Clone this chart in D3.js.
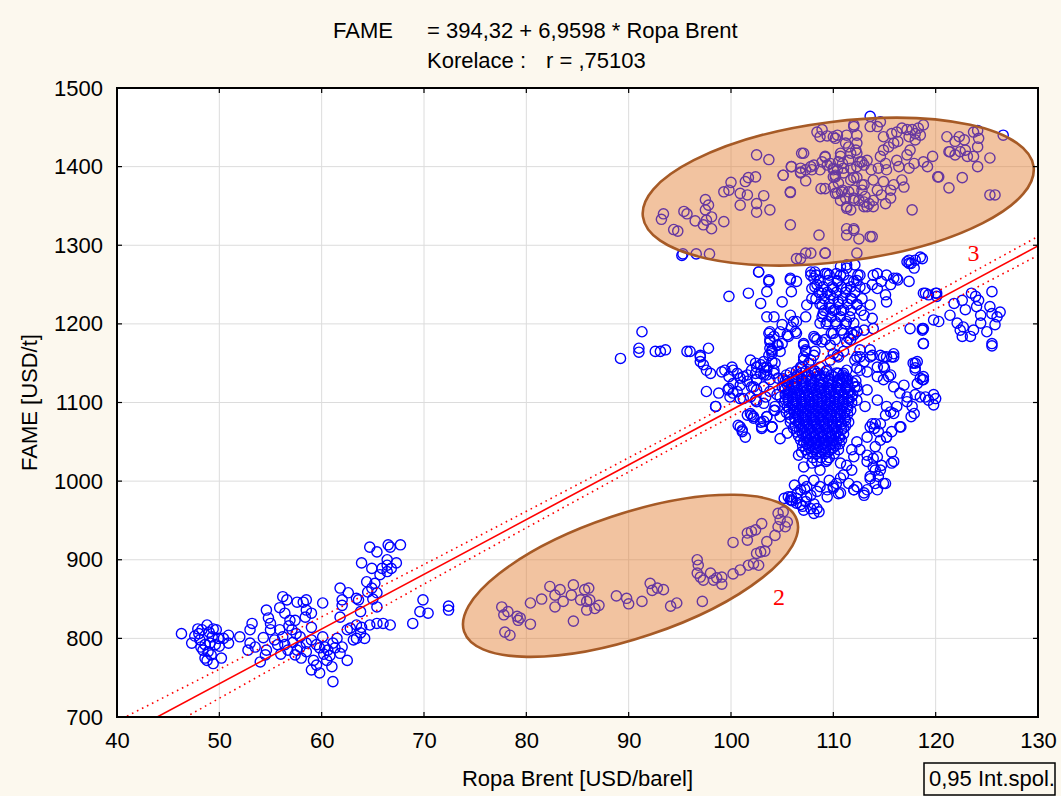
<!DOCTYPE html>
<html>
<head>
<meta charset="utf-8">
<script src="https://cdn.jsdelivr.net/npm/d3@7"></script>
<style>
  body { margin: 0; background: #fcf8ee; }
  svg text { font-family: Arial, "Liberation Sans", sans-serif; fill: #000; }
</style>
</head>
<body>
<svg id="chart" width="1061" height="796"></svg>
<script>
// ---- axis ticks ----
const xTicks = [40, 50, 60, 70, 80, 90, 100, 110, 120, 130];
const yTicks = [700, 800, 900, 1000, 1100, 1200, 1300, 1400, 1500];

// ---- regression: FAME = 394,32 + 6,9598 * Ropa Brent ----
const intercept = 394.32;
const slope = 6.9598;
// 0.95 confidence band half-width (USD/t) along Brent
const bandX = [40, 50, 60, 70, 80, 90, 100, 110, 120, 130];
const bandHalf = [22, 18.5, 15.5, 12.5, 10.5, 9, 8.5, 9, 10.5, 12];

// ---- observations [Brent USD/barel, FAME USD/t] ----
const obsLow = [
  [46.3,806],[47.3,794],[47.6,803],[48.3,811],[48.8,817],[49.4,812],[49.7,811],[50.9,804],[50.9,794],
  [48.1,798],[48.6,792],[49.1,794],[49.6,792],[48.4,785],[48.9,783],[48.6,775],[48.8,772],[49.4,768],
  [50.2,775],[49.3,802],[49.9,800],[48.0,806],[49.0,808],[50.0,790],[49.2,779],[48.2,789],[50.4,800],[47.9,812],
  [52.0,802],[53.0,811],[53.2,819],[53.0,794],[52.8,785],[53.5,789],[54.0,770],[54.3,801],[54.6,836],
  [54.8,826],[55.0,819],[55.4,798],[54.6,785],[54.5,779],[55.9,839],[56.2,853],[56.6,849],[56.4,832],
  [56.9,823],[57.4,823],[57.6,846],[58.2,846],[58.5,849],[58.5,836],[58.4,827],[59.0,832],[55.9,811],
  [56.2,802],[55.7,792],[56.4,792],[56.7,785],[57.2,795],[57.6,785],[57.9,789],[58.5,794],[59.0,798],
  [59.0,814],[57.4,779],[58.5,783],[55.0,811],[57.1,811],[57.9,802],[56.8,816],[57.5,806],[56.0,780],[58.0,775]
];
const obsMid = [
  [60.1,845],[59.5,792],[59.8,788],[60.1,802],[60.3,789],[60.6,785],[61.1,794],[61.5,800],[61.3,788],
  [59.2,772],[59.5,766],[59.0,760],[59.8,756],[60.5,772],[61.0,764],[61.1,745],[61.8,781],[62.5,772],
  [62.0,789],[62.0,849],[61.8,864],[62.0,842],[62.6,858],[63.4,851],[63.6,849],[61.8,827],[63.8,834],
  [62.5,811],[63.1,798],[60.8,778],[60.2,780],
  [62.8,813],[63.4,817],[63.8,807],[64.2,800],[63.4,800],[63.9,814],[64.7,817],[65.4,819],[66.0,819],
  [66.7,817],[64.4,872],[65.2,870],[64.5,859],[65.4,858],[65.4,840],[63.9,896],[64.7,916],[65.4,910],
  [64.9,889],[65.9,889],[66.4,893],[66.8,889],[66.7,916],[67.7,919],[66.5,919],[67.3,896],[66.4,900],
  [66.4,885],[65.7,881],[64.9,864],[65.0,850],
  [68.9,819],[69.6,834],[69.9,849],[70.4,832],[72.4,841],[72.4,836]
];
const obsGroup2 = [
  [77.6,840],[77.8,830],[78.2,834],[79.1,828],[79.2,823],[79.4,826],[80.4,818],[77.9,808],[78.4,804],
  [80.4,845],[81.5,850],[82.3,866],[82.8,855],[83.3,862],[82.8,840],[83.6,847],[84.6,868],[84.4,855],
  [84.6,822],[85.3,849],[85.7,862],[86.1,864],[85.9,847],[85.9,836],[86.2,849],[86.7,838],[87.1,842],
  [88.8,854],[89.8,851],[90.0,844],[91.3,847],[92.1,870],[92.3,861],[92.8,864],[93.4,862],[94.1,841],
  [94.7,845],[97.2,847],[96.7,900],[96.8,893],[96.7,883],[97.0,878],[97.3,874],[98.0,883],[98.3,874],
  [98.6,877],[99.1,878],[99.1,869],[100.2,882],[100.9,887],[100.2,922],[101.7,893],[102.2,895],[102.7,893],
  [102.5,908],[102.9,910],[103.3,911],[101.6,925],[101.6,934],[102.0,936],[102.4,938],[103.0,946],
  [103.5,923],[104.3,931],[104.6,942],[104.8,951],[105.1,961],[105.5,948],[104.6,959],[105.3,942]
];
const obsGroup3 = [
  [93.4,1340],[93.2,1333],[94.4,1320],[94.8,1318],[95.4,1343],[95.7,1340],[96.5,1331],[97.5,1358],
  [97.8,1351],[97.5,1345],[97.6,1332],[98.1,1336],[98.1,1321],[97.3,1326],[99.3,1330],[99.3,1368],
  [100.0,1380],[99.8,1370],[100.9,1366],[101.4,1381],[101.7,1386],[101.6,1364],[102.4,1387],[102.5,1415],
  [103.7,1409],[103.2,1363],[102.5,1353],[100.9,1351],[103.8,1345],[102.5,1342],[105.1,1389],[105.8,1367],
  [105.8,1326],[105.9,1400],[106.9,1417],[106.8,1392],[107.3,1382],[107.3,1396],[107.9,1396],[108.1,1402],
  [108.7,1396],[109.2,1412],[109.2,1372],[108.6,1313],[107.8,1290],[106.8,1283],[109.2,1290],[109.4,1402],
  [110.0,1398],[108.4,1444],[108.7,1438],[109.4,1439],[110.0,1438],[108.9,1447],[110.2,1387],[110.2,1366],
  [96.6,1289],[95.3,1289],[97.9,1289],
  [110.4,1440],[112.0,1451],[113.6,1464],[114.6,1457],[113.6,1451],[114.3,1451],[114.9,1438],[115.7,1442],
  [116.2,1444],[116.7,1449],[117.2,1447],[117.7,1447],[118.0,1442],[118.3,1449],[118.8,1453],[118.5,1440],
  [118.0,1434],[117.4,1438],[116.3,1432],[115.9,1430],[115.4,1425],[114.9,1421],[114.6,1413],[115.1,1404],
  [114.4,1398],[115.2,1396],[116.2,1408],[116.4,1400],[117.2,1415],[117.5,1421],[117.9,1404],[118.8,1406],
  [119.2,1400],[119.7,1413],[120.2,1387],[117.4,1398],[116.7,1383],[116.9,1374],[115.9,1377],[115.6,1370],
  [114.9,1381],[113.9,1383],[114.3,1370],[114.7,1364],[115.6,1360],[115.1,1353],[113.9,1357],[113.5,1353],
  [113.0,1349],[112.5,1357],[112.0,1360],[111.5,1368],[110.8,1368],[110.7,1357],[111.3,1347],[112.8,1370],
  [113.0,1377],[117.7,1345],[110.9,1404],[110.7,1413],[111.5,1408],[112.3,1430],[112.2,1421],[113.0,1402],
  [113.3,1408],[113.7,1396],[121.1,1438],[121.3,1419],[121.9,1432],[122.3,1438],[122.8,1434],[122.4,1419],
  [121.9,1415],[121.4,1419],[122.9,1421],[123.1,1413],[123.7,1413],[124.1,1425],[124.2,1436],[123.7,1444],
  [124.1,1446],[125.3,1411],[124.1,1400],[122.6,1386],[121.3,1373],[120.3,1387],[125.3,1364],[125.8,1364],
  [126.6,1440],[111.3,1313],[112.0,1321],[112.5,1308],[113.8,1311],[112.3,1290],
  [110.2,1389],[110.5,1379],[110.0,1374],[110.4,1396],[111.0,1392],[111.7,1398],[112.3,1400],[112.8,1406],
  [111.7,1383],[112.3,1386],[113.1,1362],[111.7,1345],
  [110.2,1436],[112.0,1453],[111.3,1440],[112.3,1440],[111.2,1430],[111.7,1417],[110.7,1417],[112.3,1417],
  [112.6,1406],[111.5,1425],[110.5,1406],[109.7,1404],[109.2,1413],[107.1,1417],[106.8,1398],[105.9,1400],
  [105.1,1389],[105.8,1368],[106.8,1393],[107.8,1400],[108.9,1406],[110.0,1387],[110.0,1396],[111.0,1398],
  [110.9,1370],[110.4,1366],[111.2,1360],[112.0,1370],[112.0,1357],[112.8,1377],[113.0,1355],[113.9,1349],
  [111.3,1349],[113.3,1349],[112.0,1386],[108.8,1372],[111.3,1321],[112.0,1319],[113.6,1311],[109.2,1290],
  [107.3,1290],[106.4,1283]
];
const obsUpper = [
  [95.2,1287],[102.7,1266],[103.7,1256],[105.8,1258],[107.8,1266],[108.1,1258],[109.2,1264],[110.3,1264],
  [110.7,1273],[111.3,1275],[112.1,1275],[114.3,1264],[115.2,1262],[116.2,1258],[117.2,1279],[117.4,1277],
  [118.0,1281],[118.5,1285],
  [102.7,1266],[103.7,1254],[103.5,1241],[101.7,1239],[99.8,1235],[102.9,1226],[103.5,1209],[104.2,1209],
  [105.0,1228],[105.8,1256],[106.4,1254],[105.9,1241],[105.8,1211],[106.1,1203],[105.0,1199],[103.8,1190],
  [103.8,1180],[104.6,1173],[104.0,1165],[104.0,1152],[103.5,1141],[105.6,1184],[106.4,1188],[107.1,1173],
  [108.2,1182],[107.1,1158],[107.6,1150],[106.9,1144],[106.4,1203],[107.3,1209],[107.4,1224],[107.9,1232],
  [107.9,1245],[107.8,1262],[108.2,1266],[108.4,1250],[108.9,1239],[108.9,1224],[109.0,1213],[108.7,1201],
  [109.4,1203],[109.4,1264],[109.7,1237],[110.0,1245],[110.4,1254],[110.5,1228],[111.0,1218],[110.2,1218],
  [109.7,1220],[110.7,1262],[111.3,1245],[111.7,1232],[111.3,1271],[112.0,1254],[112.6,1262],[112.3,1224],
  [113.0,1211],[113.6,1224],[113.8,1207],[113.9,1262],[114.3,1245],[114.7,1254],[115.2,1228],[115.1,1237],
  [115.6,1250],[115.9,1258],[116.3,1256],[117.4,1254],[117.4,1281],[117.6,1277],[117.9,1271],[118.7,1283],
  [113.8,1250],[113.1,1245],[119.0,1239],[120.1,1239],[118.8,1194],[118.8,1175],[117.5,1194],[117.8,1150],
  [115.9,1162],[114.9,1158],[113.8,1160],[113.0,1152],[112.3,1144],[111.0,1165],[110.4,1160],[111.3,1141],
  [111.7,1180],[112.3,1190],[111.0,1188],[110.0,1188],[109.7,1173],[108.9,1177],[108.2,1165],[110.2,1203],
  [111.3,1203],[112.0,1201],
  [105.0,1175],[104.8,1190],[105.5,1186],[105.9,1196],[106.3,1190],[107.1,1175],[108.1,1184],[108.4,1180],
  [107.3,1167],[109.2,1180],[110.2,1180],[109.8,1188],[110.8,1192]
];
const obsRight = [
  [118.8,1239],[119.3,1237],[120.0,1239],[120.1,1235],[119.8,1205],[120.3,1203],[118.7,1194],[118.8,1175],
  [121.8,1226],[121.4,1211],[122.1,1201],[122.4,1192],[122.6,1184],[122.9,1218],[123.4,1184],[123.7,1192],
  [123.5,1239],[123.9,1235],[124.2,1230],[124.0,1222],[124.4,1201],[125.0,1190],[125.5,1241],[125.3,1222],
  [125.5,1213],[126.0,1209],[126.3,1215],[125.8,1199],[125.5,1175],[125.5,1172],[122.6,1230],[122.7,1196],
  [124.4,1211],
  [118.2,1152],[118.0,1144],[118.8,1133],[118.7,1129],[118.2,1124],[115.7,1158],[114.6,1160],[113.6,1158],
  [114.9,1146],[114.3,1133],[115.6,1135],[115.9,1120],[116.9,1122],[116.5,1112],[118.0,1110],[118.5,1107],
  [119.0,1107],[119.8,1110],[120.0,1105],[119.8,1097],[119.3,1103],[117.7,1095],[117.2,1101],[117.9,1086],
  [117.6,1082],[116.2,1095],[115.9,1086],[115.1,1084],[114.6,1073],[113.8,1073],[114.0,1067],[115.2,1056],
  [116.5,1069],[115.7,1063],[113.1,1095],[113.3,1116],[114.3,1103],[112.3,1120],[112.6,1141],[113.3,1139],
  [112.1,1154],[112.6,1158],[112.3,1103],[115.6,1088],[117.2,1107],[115.2,1095],
  [118.0,1150],[118.0,1141],[118.5,1131],[118.8,1129],[118.7,1192]
];
const obsBelow = [
  [115.7,1037],[115.7,1023],[114.7,1020],[113.9,1029],[113.3,1025],[114.1,1014],[114.4,1006],[113.6,1003],
  [113.3,989],[114.1,997],[114.9,997],[112.3,993],[113.0,982],[112.0,989],[111.5,997],[111.0,1008],
  [110.3,997],[110.0,991],[110.5,984],[109.4,980],[108.7,993],[108.4,987],[108.1,1001],[107.8,982],
  [107.4,993],[107.1,1001],[106.8,989],[106.4,978],[105.9,976],[107.3,974],[108.1,971],[108.6,961],
  [107.8,965],[106.8,970],[105.6,980],[107.1,1018],[106.6,1033],[106.9,1037],[107.9,1023],[108.7,1014],
  [109.4,1027],[110.7,1023],[111.3,1020],[112.0,1031],[112.6,1040],[111.8,1040],[112.3,1050],[113.6,1069],
  [114.1,1073],[114.4,1063],[115.2,1056],[114.6,1052],[113.3,1056],[114.1,1044],[113.3,1033],[116.6,1069],
  [110.7,1004],[111.8,1014],[109.6,1001],
  [105.8,976],[106.4,972],[108.1,959],[107.1,963],[108.4,965],[105.9,980],[105.2,978],[109.4,989],
  [110.0,993],[110.7,985],[112.0,989],[113.0,985],[114.3,989],[115.1,997],[113.6,1006],[113.9,1018],
  [115.9,1025],[114.3,1031],[114.6,1014],
  [106.0,975],[106.5,985],[107.0,968],[107.4,980],[106.2,995],[107.2,990]
];
const obsLeft = [
  [97.6,1114],[98.5,1095],[98.8,1112],[99.7,1116],[99.9,1107],[100.7,1071],[101.1,1065],[101.4,1056],
  [102.0,1084],[102.2,1080],[102.9,1075],[103.0,1067],[104.0,1069],[103.5,1082],[104.8,1054],[104.3,1090],
  [105.5,1061],[101.9,1107],[100.9,1105],[100.2,1112],
  [89.2,1156],[91.0,1169],[91.0,1164],[91.3,1190],[92.6,1165],[93.1,1165],[93.6,1167],[95.7,1165],
  [96.0,1165],[97.0,1160],[97.8,1169],[97.0,1152],[97.3,1148],[97.6,1141],[98.0,1137],[99.1,1139],
  [99.8,1133],[100.1,1145],[100.2,1141],[100.6,1137],[100.9,1131],[100.2,1124],[99.8,1118],[100.6,1114],
  [100.9,1122],[101.6,1127],[102.0,1141],[102.4,1150],[102.5,1145],[102.9,1137],[103.2,1144],[103.5,1135],
  [103.8,1129],[104.2,1137],[104.3,1150],[104.0,1162],[103.8,1169],[103.7,1188],[104.5,1173],[103.2,1152],
  [102.2,1120],[102.5,1116],[103.2,1120],[103.4,1107],[103.8,1114],[104.5,1110],[102.5,1101],[101.2,1105],
  [101.9,1086],[102.2,1082],[103.2,1076],[104.0,1069],[104.2,1090],[104.8,1082],[105.3,1103],[105.5,1127],
  [105.8,1116],[107.1,1154],[107.8,1154],[107.3,1165],[108.1,1160],[106.8,1145],[108.1,1141],[108.7,1145],
  [108.4,1137],[109.4,1141],[109.7,1154],[110.5,1137],[111.0,1137],[111.2,1131],[110.9,1129],[111.3,1177],
  [111.5,1182],[111.8,1188],[112.0,1186],[112.3,1190],[113.0,1192],[113.9,1194],[113.6,1167],[114.3,1145],
  [115.0,1144],[115.2,1158],[115.9,1158],[115.4,1133],[114.9,1129],[110.5,1158],[110.0,1162],[112.3,1158],
  [112.6,1167],[101.6,1084],[100.9,1069],[101.1,1063],[98.5,1095],[99.4,1141],[101.2,1133],[101.9,1154],
  [97.0,1158],[102.0,1120],[102.5,1129],[101.6,1135],[102.4,1137],[103.2,1135],[102.9,1148],[103.7,1160],
  [104.0,1167],[104.8,1165],[103.8,1177],[104.2,1184],[104.8,1107],[105.0,1120],[104.6,1131],[104.2,1141],
  [103.5,1145],[102.4,1103],[103.2,1099],[104.3,1095],[103.0,1069],[104.0,1069],[103.5,1082]
];
// dense core, grouped by FAME level: [FAME, [Brent ...]]
const coreRows = [
  [1140, [106.4, 107.3, 108.2, 109.3]],
  [1137.5, [105.8, 106.9, 108.0, 109.1, 110.3]],
  [1135, [105.4, 106.5, 107.6, 108.7, 109.8, 110.9]],
  [1132.5, [106.4, 107.4, 108.3, 109.2, 110.1, 111.0]],
  [1130, [105.1, 106.0, 106.9, 107.9, 108.8, 109.6, 110.6, 111.4]],
  [1127.5, [105.3, 106.2, 107.0, 107.8, 108.6, 109.5, 110.4, 111.3, 112.2]],
  [1125, [105.6, 106.4, 107.3, 108.1, 109.0, 109.9, 110.8, 111.9]],
  [1122.5, [105.5, 106.3, 107.1, 107.9, 108.8, 109.7, 110.5, 111.4]],
  [1120, [105.2, 106.1, 106.9, 107.7, 108.5, 109.4, 110.3, 111.2, 112.1]],
  [1117.5, [105.3, 106.2, 107.0, 107.8, 108.7, 109.5, 110.4, 111.2]],
  [1115, [105.7, 106.5, 107.4, 108.2, 109.1, 109.8, 110.7, 111.6, 112.4]],
  [1112.5, [105.6, 106.4, 107.2, 108.0, 108.8, 109.6, 110.5, 111.4]],
  [1110, [105.3, 106.0, 106.8, 107.6, 108.4, 109.3, 110.2, 111.0, 111.9]],
  [1107.5, [106.0, 106.8, 107.6, 108.5, 109.3, 110.1, 111.0, 111.8]],
  [1105, [105.6, 106.4, 107.2, 108.0, 108.9, 109.7, 110.5, 111.4]],
  [1102.5, [105.6, 106.4, 107.3, 108.1, 108.9, 109.7, 110.6, 111.5]],
  [1100, [105.2, 106.0, 106.9, 107.7, 108.5, 109.3, 110.1, 110.9, 111.8]],
  [1097.5, [106.1, 106.9, 107.7, 108.5, 109.4, 110.2, 111.0]],
  [1095, [105.5, 106.3, 107.1, 107.9, 108.8, 109.6, 110.4, 111.3]],
  [1092.5, [105.7, 106.5, 107.3, 108.1, 108.9, 109.8, 110.6, 111.4]],
  [1090, [106.1, 106.8, 107.6, 108.4, 109.2, 110.0, 110.8, 111.7]],
  [1087.5, [105.4, 106.2, 107.0, 107.8, 108.6, 109.4, 110.3, 111.1]],
  [1085, [105.7, 106.5, 107.3, 108.1, 108.9, 109.7, 110.6, 111.4]],
  [1082.5, [106.6, 107.4, 108.2, 109.0, 109.8, 110.7]],
  [1080, [105.8, 106.2, 107.0, 107.8, 108.6, 109.4, 110.2, 111.1]],
  [1077.5, [106.3, 107.1, 107.9, 108.7, 109.5, 110.4, 111.2]],
  [1075, [105.8, 106.6, 107.4, 108.2, 109.0, 109.9, 110.7, 111.5]],
  [1072.5, [106.7, 107.5, 108.3, 109.1, 109.9, 110.8]],
  [1070, [106.3, 107.1, 107.9, 108.7, 109.5, 110.3, 111.2]],
  [1067.5, [106.1, 106.9, 107.7, 108.5, 109.3, 110.1, 111.0]],
  [1065, [106.7, 107.5, 108.3, 109.1, 109.9, 110.8]],
  [1062.5, [106.4, 107.2, 108.0, 108.8, 109.6, 110.4]],
  [1060, [107.0, 107.8, 108.6, 109.4, 110.2, 111.0]],
  [1057.5, [106.6, 107.4, 108.2, 109.0, 109.8, 110.5]],
  [1055, [107.3, 108.1, 108.9, 109.7, 110.6]],
  [1052.5, [106.8, 107.6, 108.4, 109.2, 110.0, 110.8]],
  [1050, [107.1, 107.9, 108.7, 109.5, 110.3]],
  [1047.5, [107.4, 108.2, 109.0, 109.8, 110.6]],
  [1045, [107.0, 107.8, 108.6, 109.4, 110.2]],
  [1042.5, [107.6, 108.4, 109.2, 110.0]],
  [1040, [107.3, 108.1, 108.9, 109.7, 110.5]],
  [1037.5, [107.9, 108.7, 109.5]],
  [1035, [107.5, 108.4, 109.2, 110.1]],
  [1030, [108.0, 108.8, 109.6]],
  [1025, [108.4, 109.3]]
];
const upperRows = [
  [1262, [108.3, 109.6, 111.0, 112.4]],
  [1255, [108.7, 109.5, 110.4, 111.5, 112.3]],
  [1247, [108.2, 109.0, 109.9, 110.8, 111.7, 112.6]],
  [1240, [108.6, 109.4, 110.3, 111.2, 112.1]],
  [1232, [108.3, 109.1, 110.0, 110.9, 111.8, 112.8]],
  [1225, [108.7, 109.6, 110.5, 111.4, 112.3]],
  [1217, [109.1, 110.0, 110.8, 111.7, 112.7]],
  [1209, [108.9, 109.8, 110.7, 111.6]],
  [1200, [109.3, 110.3, 111.2]]
];

// highlighted groups: major-axis end points [Brent, FAME]
const group2Axis = [[73.92, 808.5], [106.44, 950.6]];
const group3Axis = [[91.39, 1336.4], [129.57, 1400.0]];
const groupLabels = [["2", 104.7, 852], ["3", 123.7, 1290]];

// ---- layout ----
const svg = d3.select("#chart");
const W = 1061, H = 796;
const plot = { left: 117, right: 1038, top: 88, bottom: 717 };
const x = d3.scaleLinear().domain([40, 130]).range([plot.left, plot.right]);
const y = d3.scaleLinear().domain([700, 1500]).range([plot.bottom, plot.top]);

svg.append("rect").attr("width", W).attr("height", H).attr("fill", "#fcf8ee");
svg.append("rect")
  .attr("x", plot.left).attr("y", plot.top)
  .attr("width", plot.right - plot.left).attr("height", plot.bottom - plot.top)
  .attr("fill", "#ffffff");

svg.append("defs").append("clipPath").attr("id", "plotClip")
  .append("rect")
  .attr("x", plot.left).attr("y", plot.top)
  .attr("width", plot.right - plot.left).attr("height", plot.bottom - plot.top);

// grid
const grid = svg.append("g").attr("stroke", "#dcdcdc").attr("stroke-width", 1);
grid.selectAll("line.vx").data(xTicks.slice(1, -1)).join("line")
  .attr("x1", d => x(d)).attr("x2", d => x(d))
  .attr("y1", plot.top).attr("y2", plot.bottom);
grid.selectAll("line.hy").data(yTicks.slice(1, -1)).join("line")
  .attr("y1", d => y(d)).attr("y2", d => y(d))
  .attr("x1", plot.left).attr("x2", plot.right);

// points
const rowsToPts = rows => rows.flatMap(([f, bs]) => bs.map(b => [b, f]));
const allPts = [].concat(obsLow, obsMid, obsGroup2, obsGroup3, obsUpper, obsRight,
  obsBelow, obsLeft, rowsToPts(coreRows), rowsToPts(upperRows));

const body = svg.append("g").attr("clip-path", "url(#plotClip)");
body.append("g")
  .attr("fill", "none").attr("stroke", "#0000ff").attr("stroke-width", 1.4)
  .selectAll("circle").data(allPts).join("circle")
  .attr("cx", d => x(d[0])).attr("cy", d => y(d[1])).attr("r", 5.1);

// highlighted groups drawn as translucent ellipses over the points
function groupEllipse(axis, minorPx) {
  const [p, q] = axis.map(d => [x(d[0]), y(d[1])]);
  const cx = (p[0] + q[0]) / 2, cy = (p[1] + q[1]) / 2;
  const rx = Math.hypot(q[0] - p[0], q[1] - p[1]) / 2;
  const ang = Math.atan2(q[1] - p[1], q[0] - p[0]) * 180 / Math.PI;
  body.append("ellipse")
    .attr("cx", 0).attr("cy", 0).attr("rx", rx).attr("ry", minorPx)
    .attr("transform", `translate(${cx},${cy}) rotate(${ang})`)
    .attr("fill", "rgba(226,122,44,0.45)")
    .attr("stroke", "#a65a26").attr("stroke-width", 2.6);
}
groupEllipse(group2Axis, 62);
groupEllipse(group3Axis, 70);

// regression line and confidence band
const fit = b => intercept + slope * b;
const lineGen = d3.line().x(d => x(d[0])).y(d => y(d[1]));
body.append("path")
  .attr("d", lineGen([[40, fit(40)], [130, fit(130)]]))
  .attr("fill", "none").attr("stroke", "#ff0000").attr("stroke-width", 1.6);
const bandCurve = d3.line().x(d => x(d[0])).y(d => y(d[1])).curve(d3.curveMonotoneX);
[1, -1].forEach(sgn => {
  body.append("path")
    .attr("d", bandCurve(bandX.map((b, i) => [b, fit(b) + sgn * bandHalf[i]])))
    .attr("fill", "none").attr("stroke", "#ff0000").attr("stroke-width", 1.6)
    .attr("stroke-dasharray", "1.6,4");
});

// group labels
body.selectAll("text.glab").data(groupLabels).join("text")
  .attr("x", d => x(d[1])).attr("y", d => y(d[2]))
  .attr("text-anchor", "middle").attr("dominant-baseline", "central")
  .style("font-family", "'Liberation Serif', 'Times New Roman', serif")
  .style("font-size", "24px").style("fill", "#ff0000")
  .text(d => d[0]);

// axes
const fontSize = "22px";
const xAxis = svg.append("g").attr("transform", `translate(0,${plot.bottom})`)
  .call(d3.axisBottom(x).tickValues(xTicks).tickSize(0).tickPadding(15).tickFormat(d3.format("d")));
xAxis.select(".domain").remove();
xAxis.selectAll("text").style("font-size", fontSize).attr("dy", "0.71em");

const yAxis = svg.append("g").attr("transform", `translate(${plot.left},0)`)
  .call(d3.axisLeft(y).tickValues(yTicks).tickSize(0).tickPadding(14).tickFormat(d3.format("d")));
yAxis.select(".domain").remove();
yAxis.selectAll("text").style("font-size", fontSize);

// inward tick marks on all sides
const ticks = svg.append("g").attr("stroke", "#000").attr("stroke-width", 1.2);
ticks.selectAll("line.tb").data(xTicks).join("line")
  .attr("x1", d => x(d)).attr("x2", d => x(d)).attr("y1", plot.bottom).attr("y2", plot.bottom - 5);
ticks.selectAll("line.tt").data(xTicks).join("line")
  .attr("x1", d => x(d)).attr("x2", d => x(d)).attr("y1", plot.top).attr("y2", plot.top + 5);
ticks.selectAll("line.tl").data(yTicks).join("line")
  .attr("y1", d => y(d)).attr("y2", d => y(d)).attr("x1", plot.left).attr("x2", plot.left + 5);
ticks.selectAll("line.tr").data(yTicks).join("line")
  .attr("y1", d => y(d)).attr("y2", d => y(d)).attr("x1", plot.right).attr("x2", plot.right - 5);

// frame
svg.append("rect")
  .attr("x", plot.left).attr("y", plot.top)
  .attr("width", plot.right - plot.left).attr("height", plot.bottom - plot.top)
  .attr("fill", "none").attr("stroke", "#000").attr("stroke-width", 2);

// titles
const t = svg.append("g").style("font-size", fontSize);
t.append("text").attr("x", 333).attr("y", 38).text("FAME");
t.append("text").attr("x", 427).attr("y", 38).text("= 394,32 + 6,9598 * Ropa Brent");
t.append("text").attr("x", 427).attr("y", 68).text("Korelace :");
t.append("text").attr("x", 546).attr("y", 68).text("r = ,75103");

svg.append("text").attr("x", (plot.left + plot.right) / 2).attr("y", 786)
  .attr("text-anchor", "middle").style("font-size", fontSize)
  .text("Ropa Brent [USD/barel]");
svg.append("text")
  .attr("transform", `translate(37,${(plot.top + plot.bottom) / 2}) rotate(-90)`)
  .attr("text-anchor", "middle").style("font-size", fontSize)
  .text("FAME [USD/t]");

// legend box
const lg = svg.append("g");
lg.append("rect").attr("x", 924).attr("y", 763).attr("width", 131).attr("height", 32)
  .attr("fill", "none").attr("stroke", "#000").attr("stroke-width", 1.5);
lg.append("text").attr("x", 929).attr("y", 786).style("font-size", fontSize).text("0,95 Int.spol.");
</script>
</body>
</html>
